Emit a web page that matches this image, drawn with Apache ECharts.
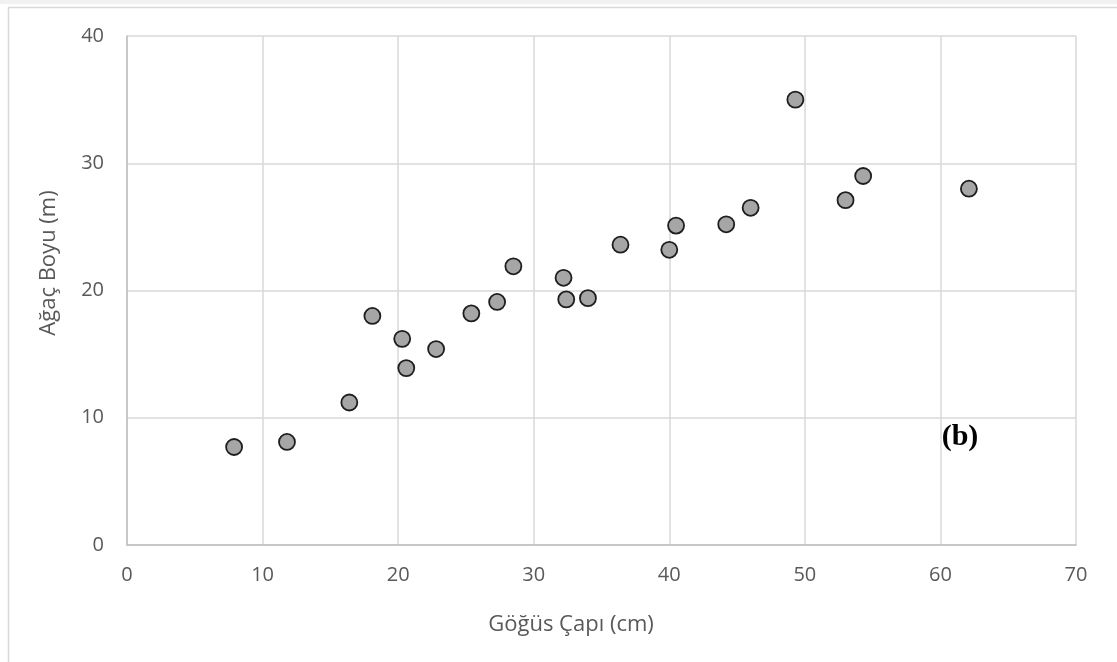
<!DOCTYPE html>
<html>
<head>
<meta charset="utf-8">
<script src="https://cdn.jsdelivr.net/npm/echarts@6/dist/echarts.min.js"></script>
<style>
html,body{margin:0;padding:0;background:#fff;}
#chart{width:1117px;height:662px;}
</style>
</head>
<body>
<div id="chart"></div>
<script>
// Data
const diameterCm = [7.9, 11.8, 16.4, 18.1, 20.3, 20.6, 22.8, 25.4, 27.3, 28.5, 32.2, 32.4, 34.0, 36.4, 40.0, 40.5, 44.2, 46.0, 49.3, 53.0, 54.3, 62.1];
const heightM    = [7.7, 8.1, 11.2, 18.0, 16.2, 13.9, 15.4, 18.2, 19.1, 21.9, 21.0, 19.3, 19.4, 23.6, 23.2, 25.1, 25.2, 26.5, 35.0, 27.1, 29.0, 28.0];
const xTitle = 'Göğüs Çapı (cm)';
const yTitle = 'Ağaç Boyu (m)';
const panelLabel = '(b)';
const xRange = [0, 70, 10];
const yRange = [0, 40, 10];

const points = diameterCm.map((d, i) => [d, heightM[i]]);
const font = '"Open Sans", "Noto Sans", sans-serif';

const chart = echarts.init(document.getElementById('chart'), null, {renderer: 'canvas'});
chart.setOption({
  animation: false,
  backgroundColor: '#ffffff',
  grid: {left: 127, right: 41, top: 36, bottom: 117, containLabel: false},
  xAxis: {
    type: 'value', min: xRange[0], max: xRange[1], interval: xRange[2],
    axisLine: {show: true, lineStyle: {color: '#bfbfbf', width: 1.5}},
    axisTick: {show: false},
    splitLine: {show: true, lineStyle: {color: '#d9d9d9', width: 1.5}},
    axisLabel: {color: '#595959', fontSize: 20, fontFamily: font, margin: 20}
  },
  yAxis: {
    type: 'value', min: yRange[0], max: yRange[1], interval: yRange[2],
    axisLine: {show: true, lineStyle: {color: '#bfbfbf', width: 1.5}},
    axisTick: {show: false},
    splitLine: {show: true, lineStyle: {color: '#d9d9d9', width: 1.5}},
    axisLabel: {color: '#595959', fontSize: 20, fontFamily: font, margin: 23}
  },
  series: [{
    type: 'scatter',
    data: points,
    symbol: 'circle',
    symbolSize: 16,
    itemStyle: {color: '#a6a6a6', borderColor: '#1e1e1e', borderWidth: 1.8, opacity: 1}
  }],
  graphic: [
    {type: 'rect', left: 6, top: 5, shape: {width: 1110, height: 680}, style: {fill: 'none', stroke: '#d9d9d9', lineWidth: 1.5}, silent: true, z: -10},
    {type: 'rect', left: 0, top: 0, shape: {width: 1117, height: 4}, style: {fill: '#f1f1f1'}, silent: true, z: -10},
    {type: 'text', x: 571, y: 625, style: {text: xTitle, fill: '#595959', fontSize: 22, fontFamily: font, align: 'center', verticalAlign: 'middle'}},
    {type: 'text', x: 49, y: 263, rotation: Math.PI / 2, style: {text: yTitle, fill: '#595959', fontSize: 22, fontFamily: font, align: 'center', verticalAlign: 'middle'}},
    {type: 'text', x: 960, y: 437, style: {text: panelLabel, fill: '#000000', fontSize: 30, fontWeight: 'bold', fontFamily: '"Liberation Serif", "DejaVu Serif", serif', align: 'center', verticalAlign: 'middle'}}
  ]
});
</script>
</body>
</html>
